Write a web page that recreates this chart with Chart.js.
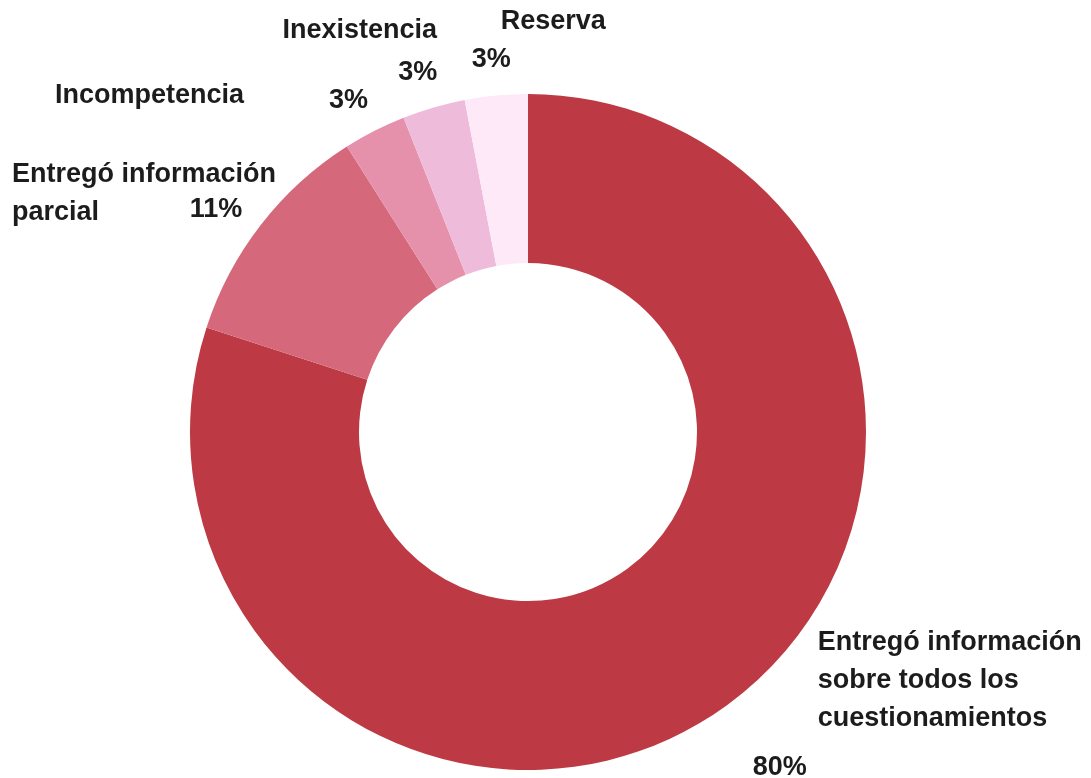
<!DOCTYPE html>
<html>
<head>
<meta charset="utf-8">
<script src="https://cdn.jsdelivr.net/npm/chart.js@4"></script>
<style>
html,body{margin:0;padding:0;background:#fff;}
#wrap{width:1091px;height:778px;position:relative;}
</style>
</head>
<body>
<div id="wrap"><canvas id="donut"></canvas></div>
<script>
const categories = [
  ["Entregó información", "sobre todos los", "cuestionamientos"],
  ["Entregó información", "parcial"],
  ["Incompetencia"],
  ["Inexistencia"],
  ["Reserva"]
];
const values = [80, 11, 3, 3, 3];
const colors = ["#bd3a45", "#d5697b", "#e591ac", "#eebcda", "#fee9f8"];

// label placement relative to each slice's outer mid point
const labelPlace = [
  {nx: 91, ny: -63, nAlign: "left", px: 53, py: 62},
  {nx: -249, ny: -50, nAlign: "left", px: -45, py: -15},
  {nx: -225, ny: -35, nAlign: "center", px: -26, py: -30},
  {nx: -74, ny: -77, nAlign: "center", px: -16, py: -35},
  {nx: 57, ny: -74, nAlign: "center", px: -5, py: -36}
];

const sliceLabels = {
  id: "sliceLabels",
  afterDraw(chart){
    const c = chart.ctx;
    const meta = chart.getDatasetMeta(0);
    const total = values.reduce((a,b)=>a+b,0);
    c.save();
    c.fillStyle = "#1c1c1c";
    c.font = "bold 27px 'Liberation Sans', Arial, sans-serif";
    c.textBaseline = "middle";
    meta.data.forEach((arc, i)=>{
      const mid = (arc.startAngle + arc.endAngle)/2;
      const x0 = arc.x + Math.cos(mid)*arc.outerRadius;
      const y0 = arc.y + Math.sin(mid)*arc.outerRadius;
      const p = labelPlace[i];
      c.textAlign = p.nAlign;
      categories[i].forEach((line, k)=>{
        c.fillText(line, x0 + p.nx, y0 + p.ny + k*38);
      });
      c.textAlign = "center";
      c.fillText(Math.round(values[i]/total*100) + "%", x0 + p.px, y0 + p.py);
    });
    c.restore();
  }
};

new Chart(document.getElementById("donut"), {
  type: "doughnut",
  data: {
    labels: categories.map(l=>l.join(" ")),
    datasets: [{
      data: values,
      backgroundColor: colors,
      borderWidth: 0
    }]
  },
  options: {
    responsive: true,
    maintainAspectRatio: false,
    animation: false,
    cutout: "50%",
    layout: {padding: {top: 94, bottom: 8, left: 0, right: 35}},
    plugins: {
      legend: {display: false},
      tooltip: {enabled: false}
    }
  },
  plugins: [sliceLabels]
});
</script>
</body>
</html>
